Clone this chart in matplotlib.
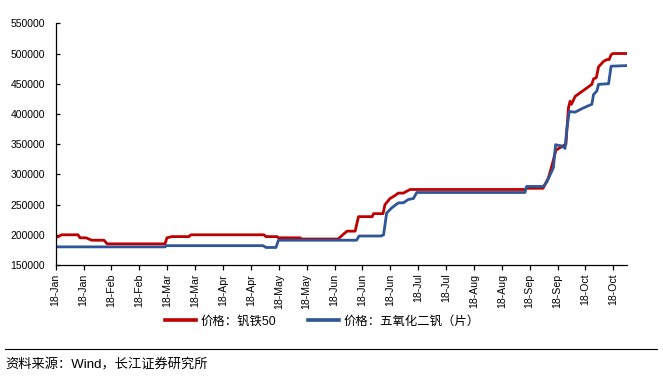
import matplotlib
matplotlib.use("Agg")
import matplotlib.pyplot as plt
from matplotlib.lines import Line2D

plt.rcParams['font.family'] = ['Liberation Sans', 'Noto Sans CJK SC']

# x = trading-day index, ticks every 10 days
tick_labels = ["18-Jan", "18-Jan", "18-Feb", "18-Feb", "18-Mar", "18-Mar", "18-Apr",
               "18-Apr", "18-May", "18-May", "18-Jun", "18-Jun", "18-Jun", "18-Jul",
               "18-Jul", "18-Aug", "18-Aug", "18-Sep", "18-Sep", "18-Oct", "18-Oct"]
tick_pos = [0, 10, 20, 30, 40, 50, 60, 70, 80, 90, 100, 110, 120, 130, 140, 150,
            160, 170, 180, 190, 200]

fev_x = [0, 2.2, 8.0, 8.7, 10.9, 12.9, 17.3, 18.5, 39.2, 39.9, 41.7, 47.8, 48.5,
         74.7, 75.4, 79.4, 79.9, 87.6, 88.3, 101.3, 102.7, 104.5, 107.4, 108.6,
         113.5, 114.0, 117.4, 118.1, 119.9, 121.7, 122.9, 124.7, 127.1, 168.3,
         169.0, 174.8, 176.7, 177.4, 178.4, 179.4, 180.8, 183.0, 183.9, 184.5,
         185.0, 186.3, 190.5, 192.3, 192.9, 193.9, 194.7, 196.5, 197.7, 198.5,
         199.2, 199.9, 204.7]
fev_y = [195000, 200000, 200000, 195000, 195000, 191000, 191000, 185000, 185000,
         195000, 197000, 197000, 200000, 200000, 197000, 197000, 195000, 195000,
         193000, 193000, 199000, 206000, 206000, 230000, 230000, 235000, 235000,
         250000, 260000, 265000, 269000, 269000, 275000, 275000, 277000, 277000,
         294000, 305000, 322000, 340000, 344000, 350000, 410000, 421000, 416000,
         429000, 443000, 449000, 458000, 460000, 478000, 487000, 490000, 490000,
         498000, 500000, 500000]

v2o5_x = [0, 39.2, 39.7, 74.4, 75.4, 79.0, 79.9, 107.9, 108.8, 116.7, 117.6, 118.7,
          120.5, 122.9, 124.7, 126.5, 128.3, 129.5, 168.3, 168.9, 174.9, 176.1,
          177.9, 178.5, 179.3, 181.5, 182.7, 183.3, 184.2, 186.3, 189.3, 192.3,
          192.9, 194.1, 194.7, 198.3, 199.2, 204.7]
v2o5_y = [180000, 180000, 182000, 182000, 179000, 179000, 191000, 191000, 198000,
          198000, 200000, 236000, 244500, 252800, 253000, 258500, 260000, 270000,
          270000, 280000, 280000, 287000, 305000, 311000, 349000, 347000, 343000,
          374000, 404000, 403000, 410000, 416000, 432000, 438000, 449000, 450000,
          479000, 480000]

y_ticks = [150000, 200000, 250000, 300000, 350000, 400000, 450000, 500000, 550000]

series_names = ["价格：钒铁50", "价格：五氧化二钒（片）"]
source_text = "资料来源：Wind，长江证券研究所"

W, H = 663, 379
fig = plt.figure(figsize=(W / 100, H / 100), dpi=100)
ax = fig.add_axes([55.7 / W, 1 - 265 / H, (626.7 - 55.7) / W, (265 - 23.3) / H])

red = '#C00000'
blue = '#2E5597'
ax.plot(fev_x, fev_y, color=red, lw=2.0, label=series_names[0], solid_joinstyle='round')
ax.plot(v2o5_x, v2o5_y, color=blue, lw=2.0, label=series_names[1], solid_joinstyle='round')

ax.set_xlim(0, 204.8)
ax.set_ylim(150000, 550000)
ax.set_yticks(y_ticks)
ax.set_yticklabels([f"{v:d}" for v in y_ticks], fontsize=7.5)
ax.set_xticks(tick_pos)
ax.set_xticklabels(tick_labels, rotation=90, fontsize=7.6)

for s in ['top', 'right']:
    ax.spines[s].set_visible(False)
for s in ['left', 'bottom']:
    ax.spines[s].set_color('black')
    ax.spines[s].set_linewidth(0.9)
ax.tick_params(axis='y', direction='in', length=3, width=0.9, pad=7.5, colors='black')
ax.tick_params(axis='x', direction='out', length=3.3, width=0.9, pad=3, colors='black')

handles = [Line2D([], [], color=red, lw=2.6), Line2D([], [], color=blue, lw=2.6)]
fig.legend(handles, series_names, loc='center', bbox_to_anchor=(322 / W, 1 - 321.5 / H),
           ncol=2, frameon=False, fontsize=8.9, handlelength=2.5, handletextpad=0.35,
           columnspacing=2.6)

fig.add_artist(Line2D([5 / W, 657 / W], [1 - 349 / H, 1 - 349 / H], color='black', lw=0.8))
fig.text(5 / W, 1 - 365 / H, source_text, fontsize=9.5, va='center', ha='left')

fig.savefig("out.png", dpi=100)
